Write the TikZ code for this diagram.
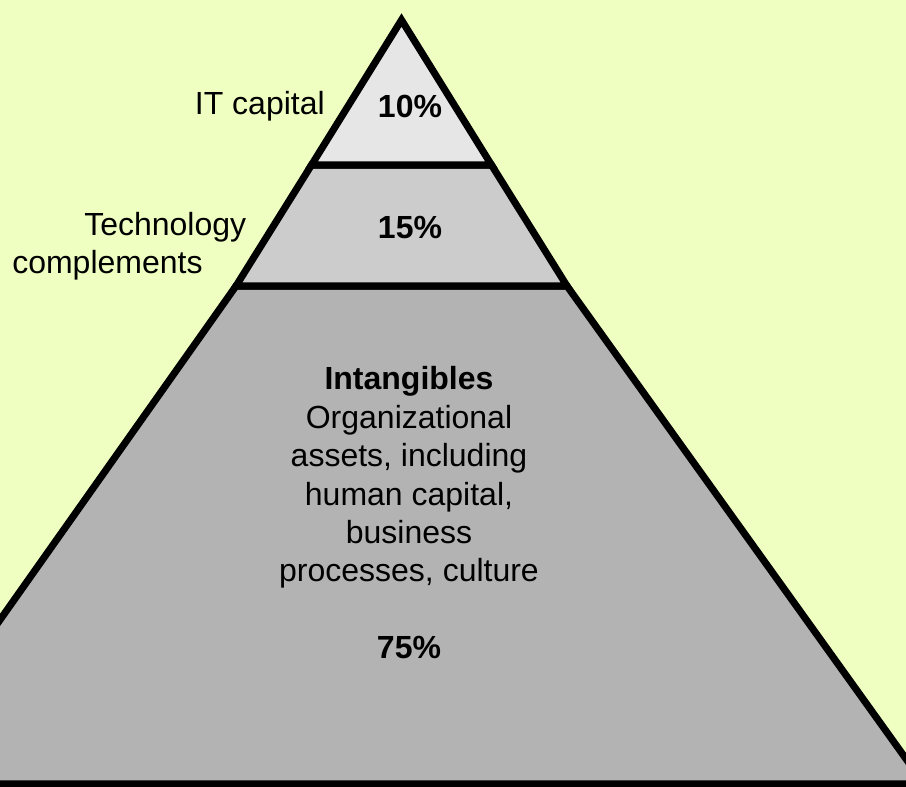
\documentclass[tikz,border=0pt]{standalone}
\usepackage{fontspec}
\setmainfont{Liberation Sans}
\definecolor{bgyellow}{HTML}{EFFFC2}
\definecolor{tiertop}{HTML}{E6E6E6}
\definecolor{tiermid}{HTML}{CCCCCC}
\definecolor{tierlow}{HTML}{B3B3B3}
\begin{document}
\begin{tikzpicture}[x=0.75pt, y=-0.75pt,
    tier/.style={draw=black, line width=5.3pt, line join=miter},
    lbl/.style={inner sep=0pt, font=\fontsize{24}{28.8}\selectfont},
    pct/.style={lbl, font=\fontsize{24}{28.8}\selectfont\bfseries}]

  \useasboundingbox (0,0) rectangle (906,787);
  \clip (0,0) rectangle (906,787);
  \fill[bgyellow] (0,0) rectangle (906,787);

  % corners of the tiers
  \coordinate (apex) at (401.5, 20);
  \coordinate (tl)   at (311.5,165);
  \coordinate (tr)   at (491.5,165);
  \coordinate (ml)   at (236,  286);
  \coordinate (mr)   at (567,  286);
  \coordinate (bl)   at (-116, 784);
  \coordinate (br)   at (924,  784);

  \filldraw[tier, fill=tierlow] (ml) -- (mr) -- (br) -- (bl) -- cycle;
  \filldraw[tier, fill=tiermid] (tl) -- (tr) -- (mr) -- (ml) -- cycle;
  \filldraw[tier, fill=tiertop] (apex) -- (tr) -- (tl) -- cycle;

  \node[pct, anchor=base] (ten)     at (410,118) {10\%};
  \node[pct, anchor=base] (fifteen) at (410,239) {15\%};
  \node[lbl, anchor=base east] (itcap) at (325,115) {IT capital};
  \node[lbl, anchor=west, align=left] (techc) at (12,246)
    {\hspace*{54pt}Technology\\complements};
  \node[lbl, anchor=north, align=center] (intang) at (409,366.5)
    {\textbf{Intangibles}\\Organizational\\assets, including\\human capital,\\business\\processes, culture\\[28.8pt]\textbf{75\%}};
\end{tikzpicture}
\end{document}
